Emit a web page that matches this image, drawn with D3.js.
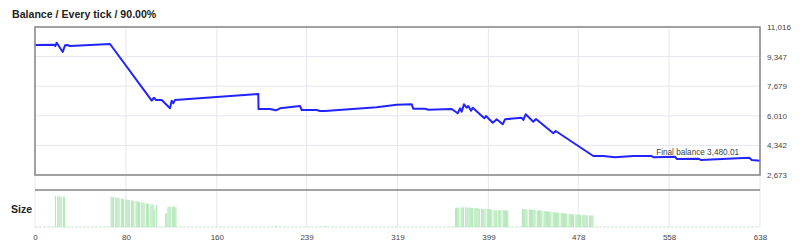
<!DOCTYPE html>
<html>
<head>
<meta charset="utf-8">
<script src="https://cdn.jsdelivr.net/npm/d3@7/dist/d3.min.js"></script>
<style>
  body { margin: 0; background: #fff; }
  svg text { font-family: Arial, "Liberation Sans", sans-serif; }
</style>
</head>
<body>
<svg id="chart" width="800" height="250"></svg>
<script>
// balance curve: tick index -> account balance
const balanceTicks = [0, 16.7, 17.9, 19.1, 24.4, 26.4, 28.4, 30.8, 66, 102.7, 104.7, 106.5, 111.5, 118.8, 120.3, 121.7, 123.2,
  196.5, 196.7, 206.8, 212, 215.6, 233.2, 234.7, 247.9, 250.8, 255.2, 300.7, 318.3, 331.5, 332.9, 343.2, 346.1, 366.7,
  372, 374, 375.5, 377.5, 379.9, 381.3, 383.7, 385.2, 395.4, 396.9, 402.8, 406.3, 411.6, 413.6, 428.3, 429.7, 431.8,
  438.5, 440.9, 456.1, 458.2, 491.3, 500.1, 510.4, 526.5, 542.7, 544.1, 563.2, 564.7, 583.7, 585.8, 628.6, 630.7, 638];
const balanceValues = [10000, 10018, 9945, 10131, 9607, 9984, 10001, 9945, 10058, 6862, 7031, 6901, 6901, 6433, 6862, 6715, 6901,
  7239, 6394, 6394, 6320, 6433, 6563, 6337, 6337, 6281, 6281, 6489, 6636, 6659, 6411, 6411, 6354, 6394,
  6151, 6433, 6241, 6659, 6467, 6563, 6298, 6467, 5869, 5999, 5621, 5813, 5531, 5813, 5903, 5774, 6095,
  5678, 5830, 5024, 5154, 3744, 3744, 3671, 3744, 3744, 3671, 3705, 3575, 3592, 3519, 3649, 3519, 3480.01];
const finalBalance = 3480.01;

// trade size per tick: [tick, lots]
const sizeBars = [
  [18, 1.00], [20, 0.99], [21, 0.99], [22, 0.98], [23, 0.98], [25, 0.97], [26, 0.97],
  [67, 0.98], [68, 0.97], [69, 0.97], [71, 0.95], [72, 0.95], [73, 0.94], [74, 0.93], [76, 0.92], [77, 0.91], [78, 0.90],
  [80, 0.89], [81, 0.88], [82, 0.88], [83, 0.87], [85, 0.86], [86, 0.85], [87, 0.85], [89, 0.83], [90, 0.83], [91, 0.82],
  [92, 0.81], [94, 0.80], [95, 0.79], [96, 0.78], [98, 0.77], [99, 0.76], [100, 0.75], [102, 0.74], [103, 0.73],
  [104, 0.72], [105, 0.57], [107, 0.71],
  [115, 0.44], [116, 0.44], [117, 0.65], [118, 0.66], [119, 0.65], [121, 0.65], [122, 0.66], [123, 0.65], [124, 0.64],
  [212, 0.04], [256, 0.04],
  [370, 0.60], [371, 0.62], [372, 0.63], [373, 0.62], [375, 0.63], [376, 0.64], [377, 0.63], [379, 0.64], [380, 0.63],
  [381, 0.62], [382, 0.63], [383, 0.62], [384, 0.61], [385, 0.62], [387, 0.61], [388, 0.60], [389, 0.61], [390, 0.60],
  [391, 0.59], [393, 0.60], [394, 0.59], [395, 0.58], [396, 0.59], [398, 0.58], [399, 0.57], [400, 0.58], [401, 0.57],
  [402, 0.56], [404, 0.55], [405, 0.53], [406, 0.54], [408, 0.54], [409, 0.55], [410, 0.54], [412, 0.55], [413, 0.54],
  [414, 0.53], [415, 0.54], [416, 0.53],
  [429, 0.57], [430, 0.58], [431, 0.57], [432, 0.58], [433, 0.57], [435, 0.56], [436, 0.57], [437, 0.56], [438, 0.55],
  [439, 0.56], [440, 0.55], [442, 0.54], [443, 0.53], [444, 0.54], [445, 0.53], [446, 0.52], [448, 0.52], [449, 0.51],
  [450, 0.51], [451, 0.50], [452, 0.50], [453, 0.49], [454, 0.49], [456, 0.48], [457, 0.48], [458, 0.47], [459, 0.47],
  [460, 0.46], [461, 0.46], [463, 0.45], [464, 0.45], [465, 0.44], [466, 0.44], [467, 0.44], [468, 0.43], [470, 0.43],
  [471, 0.42], [472, 0.42], [473, 0.41], [474, 0.41], [476, 0.41], [477, 0.40], [478, 0.40], [479, 0.40], [480, 0.39],
  [482, 0.39], [483, 0.39], [484, 0.38], [485, 0.38], [486, 0.38], [488, 0.37], [489, 0.38], [490, 0.37], [491, 0.37]
];

const xTicks = [0, 80, 160, 239, 319, 399, 478, 558, 638];
const yTicks = [2673, 4342, 6010, 7679, 9347, 11016];

const layout = { left: 35, right: 760, top: 27, bottom: 175, sizeTop: 190, sizeBase: 227 };
const gridColor = '#e6e6f0';
const frameColor = '#858585';
const labelColor = '#444';

const svg = d3.select('#chart');

const x = d3.scaleLinear().domain([0, 638]).range([layout.left, layout.right]);
const y = d3.scaleLinear().domain([2673, 11016]).range([layout.bottom, layout.top]);
const ySize = d3.scaleLinear().domain([0, 1]).range([layout.sizeBase, 196]);

// grid
svg.append('g')
  .selectAll('line')
  .data(yTicks)
  .join('line')
  .attr('x1', layout.left).attr('x2', layout.right)
  .attr('y1', d => y(d)).attr('y2', d => y(d))
  .attr('stroke', gridColor);

svg.append('g')
  .selectAll('line')
  .data(xTicks)
  .join('line')
  .attr('x1', d => x(d)).attr('x2', d => x(d))
  .attr('y1', layout.top).attr('y2', layout.sizeBase)
  .attr('stroke', gridColor);

// size panel
svg.append('line')
  .attr('x1', layout.left).attr('x2', layout.right)
  .attr('y1', layout.sizeBase).attr('y2', layout.sizeBase)
  .attr('stroke', '#bfe8c2')
  .attr('stroke-dasharray', '3,1');

const barWidth = x(1) - x(0);
svg.append('g')
  .selectAll('rect')
  .data(sizeBars)
  .join('rect')
  .attr('x', d => x(d[0]) - barWidth / 2)
  .attr('width', barWidth)
  .attr('y', d => ySize(d[1]))
  .attr('height', d => layout.sizeBase - ySize(d[1]))
  .attr('fill', '#b6e8bb');

svg.append('line')
  .attr('x1', layout.left).attr('x2', layout.right)
  .attr('y1', layout.sizeTop).attr('y2', layout.sizeTop)
  .attr('stroke', frameColor)
  .attr('stroke-width', 1.5);

// balance line
const line = d3.line()
  .x((d, i) => x(balanceTicks[i]))
  .y(d => y(d));

svg.append('path')
  .datum(balanceValues)
  .attr('d', line)
  .attr('fill', 'none')
  .attr('stroke', '#2323ff')
  .attr('stroke-width', 2)
  .attr('stroke-linejoin', 'round');

svg.append('rect')
  .attr('x', layout.left).attr('y', layout.top)
  .attr('width', layout.right - layout.left)
  .attr('height', layout.bottom - layout.top)
  .attr('fill', 'none')
  .attr('stroke', frameColor)
  .attr('stroke-width', 1.5);

// axes
const yAxis = svg.append('g')
  .attr('transform', `translate(${layout.right},0)`)
  .call(d3.axisRight(y).tickValues(yTicks).tickSize(0).tickPadding(7).tickFormat(d3.format(',')));
yAxis.select('.domain').remove();
yAxis.selectAll('text').attr('fill', labelColor).style('font-size', '8px');

const xAxis = svg.append('g')
  .attr('transform', `translate(0,${layout.sizeBase})`)
  .call(d3.axisBottom(x).tickValues(xTicks).tickSize(0).tickPadding(7).tickFormat(d3.format('d')));
xAxis.select('.domain').remove();
xAxis.selectAll('text').attr('fill', labelColor).style('font-size', '8px');

// labels
svg.append('text')
  .attr('x', 12).attr('y', 18)
  .attr('font-weight', 'bold')
  .style('font-size', '10.6px')
  .attr('fill', '#222')
  .text('Balance / Every tick / 90.00%');

svg.append('text')
  .attr('x', 11).attr('y', 213)
  .attr('font-weight', 'bold')
  .style('font-size', '10.5px')
  .attr('fill', '#222')
  .text('Size');

svg.append('text')
  .attr('x', x(638) - 21).attr('y', y(finalBalance) - 6)
  .attr('text-anchor', 'end')
  .style('font-size', '8.2px')
  .attr('fill', labelColor)
  .text('Final balance ' + d3.format(',.2f')(finalBalance));
</script>
</body>
</html>
